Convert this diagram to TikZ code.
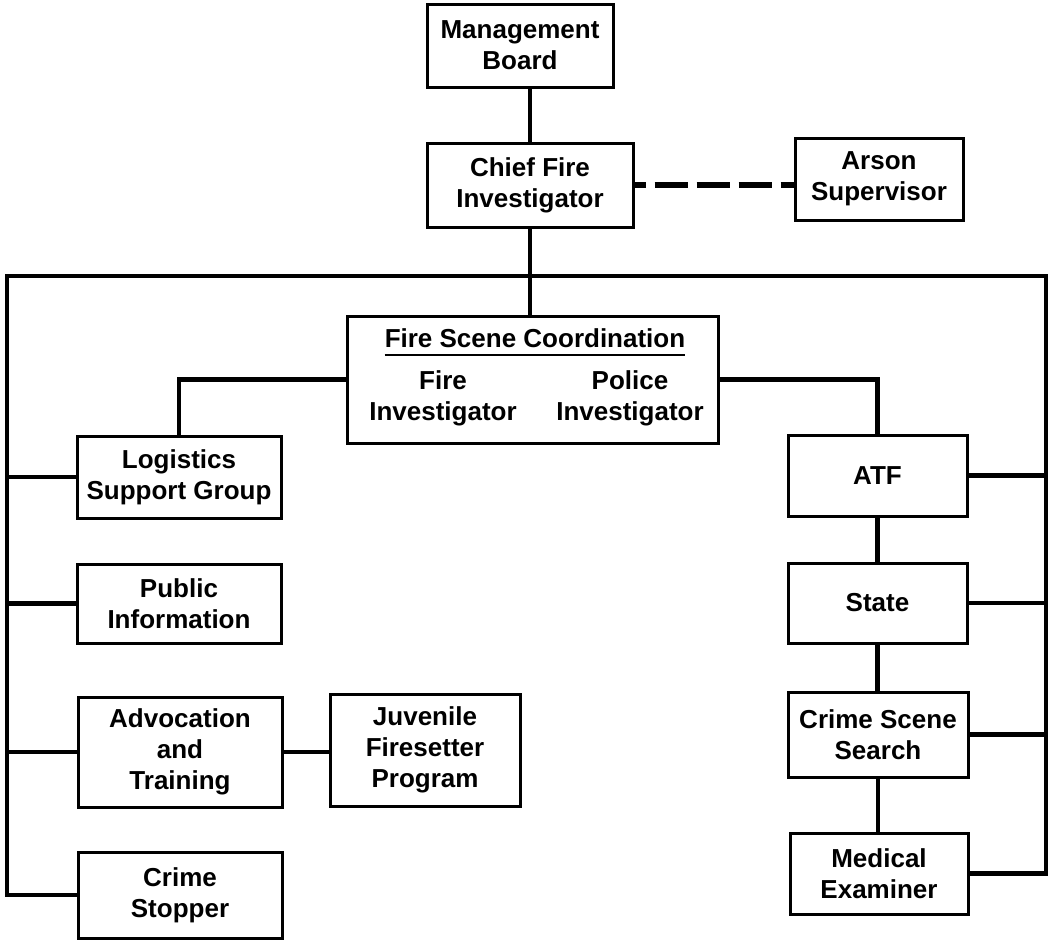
\documentclass[tikz,border=0pt]{standalone}
\usepackage{fontspec}
\setmainfont{Liberation Sans}
\begin{document}
\begin{tikzpicture}[x=1pt,y=-1pt,
  txt/.style={align=center,inner sep=0pt,font=\bfseries\fontsize{26}{31}\selectfont},
  unit/.style={txt,draw,line width=3pt},
  link/.style={line width=4.6pt}]
  \useasboundingbox (0,0) rectangle (1049,945);
  % command line
  \node[unit,minimum width=186pt,minimum height=83pt] (board) at (520,45.5) {Management\\Board};
  \node[unit,minimum width=206pt,minimum height=84pt] (chief) at (530,185) {Chief Fire\\Investigator};
  \node[unit,minimum width=168pt,minimum height=82pt] (arson) at (879,179) {Arson\\Supervisor};
  % coordination box with its two investigators
  \node[unit,minimum width=371pt,minimum height=127pt] (scene) at (532.5,379.5) {};
  \node[txt,anchor=base] (title) at (535,347) {Fire Scene Coordination};
  \node[txt] (fireinv) at (443,398) {Fire\\Investigator};
  \node[txt] (policeinv) at (630,398) {Police\\Investigator};
  % left column
  \node[unit,minimum width=204pt,minimum height=82pt] (logistics) at (179,477) {Logistics\\Support Group};
  \node[unit,minimum width=204pt,minimum height=79pt] (public) at (179,603.5) {Public\\Information};
  \node[unit,minimum width=204pt,minimum height=110pt] (advoc) at (180,752) {Advocation\\and\\Training};
  \node[unit,minimum width=190pt,minimum height=112pt] (juvenile) at (425,750) {Juvenile\\Firesetter\\Program};
  \node[unit,minimum width=204pt,minimum height=86pt] (stopper) at (180,895) {Crime\\Stopper};
  % right column
  \node[unit,minimum width=179pt,minimum height=81pt] (atf) at (877.5,475.5) {ATF};
  \node[unit,minimum width=179pt,minimum height=80pt] (state) at (877.5,603) {State};
  \node[unit,minimum width=180pt,minimum height=85pt] (css) at (878,734.5) {Crime Scene\\Search};
  \node[unit,minimum width=178pt,minimum height=81pt] (exam) at (879,873.5) {Medical\\Examiner};
  % frame corners
  \coordinate (tl) at (7,276);
  \coordinate (tr) at (1046,276);
  % links
  \draw[line width=2.8pt] ([yshift=-8pt]title.base west) -- ([yshift=-8pt]title.base east);
  \draw[link] (chief.north) -- (chief.north |- board.south);
  \draw[link] (chief.south) -- (chief.south |- scene.north);
  \draw[line width=5.5pt,dash pattern=on 33pt off 9pt,dash phase=22pt] (chief.east) -- (chief.east -| arson.west);
  \draw[link] (stopper.west) -- (stopper.west -| tl) -- (tl) -- (tr) -- (exam.east -| tr) -- (exam.east);
  \draw[link] (scene.west) -- (scene.west -| logistics.north) -- (logistics.north);
  \draw[link] (scene.east) -- (scene.east -| atf.north) -- (atf.north);
  \draw[link] (logistics.west -| tl) -- (logistics.west);
  \draw[link] (public.west -| tl) -- (public.west);
  \draw[link] (advoc.west -| tl) -- (advoc.west);
  \draw[link] (advoc.east) -- (advoc.east -| juvenile.west);
  \draw[link] (atf.south) -- (atf.south |- state.north);
  \draw[link] (state.south) -- (state.south |- css.north);
  \draw[link] (css.south) -- (css.south |- exam.north);
  \draw[link] (atf.east) -- (atf.east -| tr);
  \draw[link] (state.east) -- (state.east -| tr);
  \draw[link] (css.east) -- (css.east -| tr);
\end{tikzpicture}
\end{document}
